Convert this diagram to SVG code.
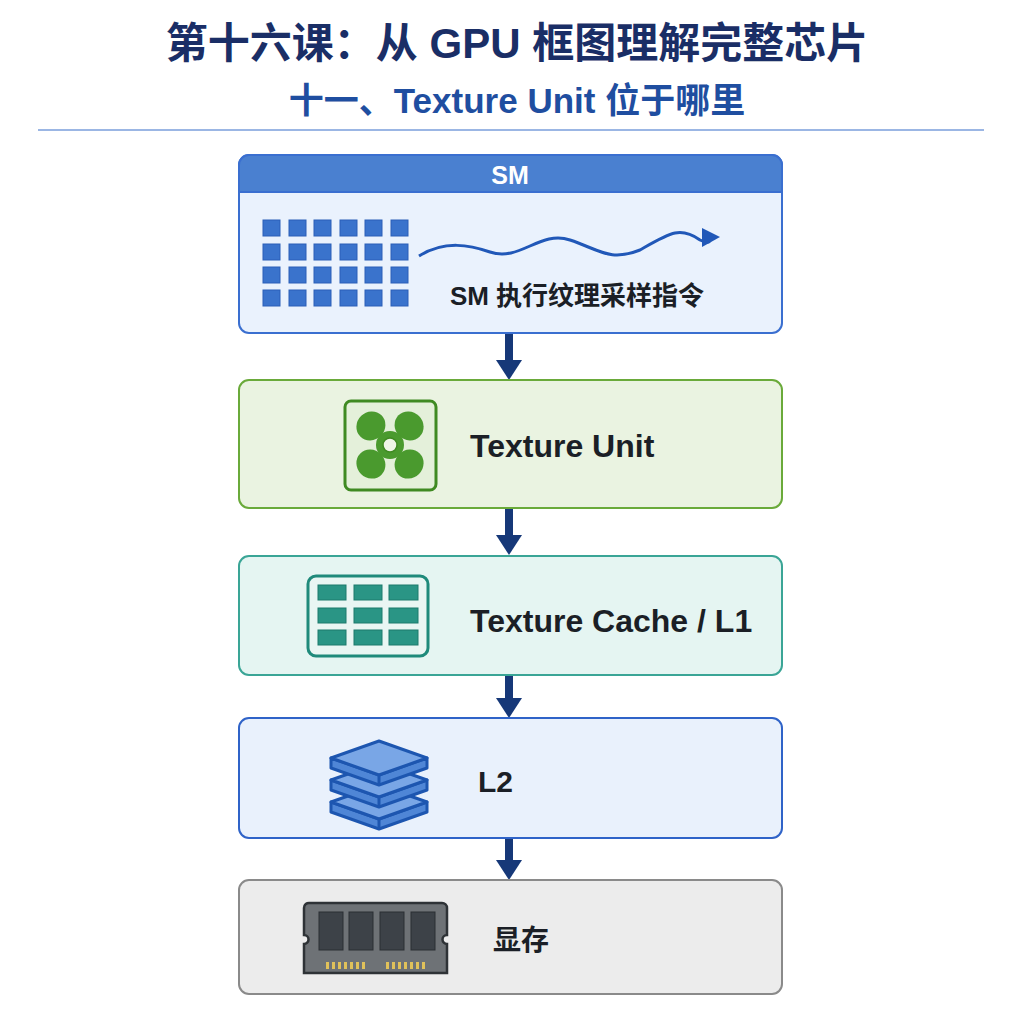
<svg xmlns="http://www.w3.org/2000/svg" width="1024" height="1024" viewBox="0 0 1024 1024">
<style>
.t{font-family:"Liberation Sans","Noto Sans CJK SC",sans-serif;font-weight:bold}
.lbl{font-family:"Liberation Sans","Noto Sans CJK SC",sans-serif;font-weight:bold;fill:#1b1f26}
.sq{fill:#3a73cc;stroke:#2a5fb8;stroke-width:1}
.ar{stroke:#163878;stroke-width:8;fill:none}
.cell{fill:#2a9585;stroke:#1d7a6d;stroke-width:1}
.side{fill:#4f86d6;stroke:#1d56b0;stroke-width:3;stroke-linejoin:round}
.top{fill:#79a6e6;stroke:#1d56b0;stroke-width:3;stroke-linejoin:round}
.chip{fill:#3d4248;stroke:#2a2e33;stroke-width:1}
.pin{fill:#e0c15a}
.petal{fill:#4a9a2e}
</style>
<rect width="1024" height="1024" fill="#ffffff"/>
<text class="t" x="517" y="58" text-anchor="middle" font-size="42" fill="#1a2e66">第十六课：从 GPU 框图理解完整芯片</text>
<text class="t" x="517" y="113" text-anchor="middle" font-size="35" fill="#1f4ea0">十一、Texture Unit 位于哪里</text>
<line x1="38" y1="130" x2="984" y2="130" stroke="#7a9edb" stroke-width="1.5"/>

<g id="connectors">
<line class="ar" x1="509" y1="334" x2="509" y2="362"/><path d="M496 360 L522 360 L509 380 z" fill="#163878"/>
<line class="ar" x1="509" y1="509" x2="509" y2="537"/><path d="M496 535 L522 535 L509 555 z" fill="#163878"/>
<line class="ar" x1="509" y1="676" x2="509" y2="700"/><path d="M496 698 L522 698 L509 718 z" fill="#163878"/>
<line class="ar" x1="509" y1="839" x2="509" y2="862"/><path d="M496 860 L522 860 L509 880 z" fill="#163878"/>
</g>

<g id="sm">
<rect x="239" y="155" width="543" height="178" rx="10" fill="#eaf2fd" stroke="#3a6fd0" stroke-width="2"/>
<path d="M249 155 H772 A10 10 0 0 1 782 165 V192 H239 V165 A10 10 0 0 1 249 155 z" fill="#4a80d0" stroke="#3a6fd0" stroke-width="2"/>
<text class="t" x="510" y="184" text-anchor="middle" font-size="25" fill="#ffffff">SM</text>
<g>
<rect class="sq" x="263" y="220" width="17" height="16"/><rect class="sq" x="289" y="220" width="17" height="16"/><rect class="sq" x="314" y="220" width="17" height="16"/><rect class="sq" x="340" y="220" width="17" height="16"/><rect class="sq" x="365" y="220" width="17" height="16"/><rect class="sq" x="391" y="220" width="17" height="16"/>
<rect class="sq" x="263" y="244" width="17" height="16"/><rect class="sq" x="289" y="244" width="17" height="16"/><rect class="sq" x="314" y="244" width="17" height="16"/><rect class="sq" x="340" y="244" width="17" height="16"/><rect class="sq" x="365" y="244" width="17" height="16"/><rect class="sq" x="391" y="244" width="17" height="16"/>
<rect class="sq" x="263" y="267" width="17" height="16"/><rect class="sq" x="289" y="267" width="17" height="16"/><rect class="sq" x="314" y="267" width="17" height="16"/><rect class="sq" x="340" y="267" width="17" height="16"/><rect class="sq" x="365" y="267" width="17" height="16"/><rect class="sq" x="391" y="267" width="17" height="16"/>
<rect class="sq" x="263" y="290" width="17" height="16"/><rect class="sq" x="289" y="290" width="17" height="16"/><rect class="sq" x="314" y="290" width="17" height="16"/><rect class="sq" x="340" y="290" width="17" height="16"/><rect class="sq" x="365" y="290" width="17" height="16"/><rect class="sq" x="391" y="290" width="17" height="16"/>
</g>
<path d="M419 256 C445 240 470 245 490 252 C520 262 540 230 570 240 C600 250 610 262 640 250 C670 233 680 226 700 240 C712 246 712 238 706 237" fill="none" stroke="#2158b8" stroke-width="3"/>
<path d="M702 228 L720 237 L702 247 z" fill="#2158b8"/>
<text class="lbl" x="577" y="305" text-anchor="middle" font-size="26">SM 执行纹理采样指令</text>
</g>

<g id="texture-unit">
<rect x="239" y="380" width="543" height="128" rx="10" fill="#eaf3e1" stroke="#6aaa3a" stroke-width="2"/>
<rect x="345" y="401" width="91" height="89" rx="6" fill="#e4f0da" stroke="#3f8a22" stroke-width="3"/>
<g transform="translate(390 445)">
<ellipse class="petal" cx="0" cy="-27" rx="15" ry="14" transform="rotate(-45)"/>
<ellipse class="petal" cx="0" cy="-27" rx="15" ry="14" transform="rotate(45)"/>
<ellipse class="petal" cx="0" cy="-27" rx="15" ry="14" transform="rotate(135)"/>
<ellipse class="petal" cx="0" cy="-27" rx="15" ry="14" transform="rotate(225)"/>
<circle r="14" class="petal"/>
<circle r="7" fill="#eef5e6" stroke="#3f8a22" stroke-width="1.5"/>
</g>
<text class="lbl" x="470" y="457" font-size="32">Texture Unit</text>
</g>

<g id="texture-cache">
<rect x="239" y="556" width="543" height="119" rx="10" fill="#e5f5f2" stroke="#3aa596" stroke-width="2"/>
<rect x="308" y="576" width="120" height="80" rx="8" fill="#e9f6f3" stroke="#1f8a7b" stroke-width="3"/>
<rect class="cell" x="318" y="585" width="28" height="15"/><rect class="cell" x="354" y="585" width="28" height="15"/><rect class="cell" x="389" y="585" width="29" height="15"/>
<rect class="cell" x="318" y="608" width="28" height="15"/><rect class="cell" x="354" y="608" width="28" height="15"/><rect class="cell" x="389" y="608" width="29" height="15"/>
<rect class="cell" x="318" y="630" width="28" height="15"/><rect class="cell" x="354" y="630" width="28" height="15"/><rect class="cell" x="389" y="630" width="29" height="15"/>
<text class="lbl" x="470" y="632" font-size="32">Texture Cache / L1</text>
</g>

<g id="l2">
<rect x="239" y="718" width="543" height="120" rx="10" fill="#e9f1fc" stroke="#2f63c8" stroke-width="2"/>
<g>
<path class="side" d="M331 802 L379 819 L427 802 L427 812 L379 829 L331 812 z"/><path class="top" d="M331 802 L379 785 L427 802 L379 819 z"/>
<path class="side" d="M331 780 L379 797 L427 780 L427 790 L379 807 L331 790 z"/><path class="top" d="M331 780 L379 763 L427 780 L379 797 z"/>
<path class="side" d="M331 758 L379 775 L427 758 L427 768 L379 785 L331 768 z"/><path class="top" d="M331 758 L379 741 L427 758 L379 775 z"/>
<path d="M379 775 V785 M379 797 V807 M379 819 V829" stroke="#1d56b0" stroke-width="3"/>
</g>
<text class="lbl" x="478" y="792" font-size="30">L2</text>
</g>

<g id="vram">
<rect x="239" y="880" width="543" height="114" rx="10" fill="#ececec" stroke="#8a8a8a" stroke-width="2"/>
<path d="M310 903 H442 A5 5 0 0 1 447 908 V935 A4 4 0 0 0 447 944 V973 H304 V944 A4 4 0 0 0 304 935 V908 A5 5 0 0 1 310 903 z" fill="#6e7276" stroke="#2e3236" stroke-width="2.5"/>
<rect class="chip" x="319" y="912" width="24" height="38"/><rect class="chip" x="349" y="912" width="24" height="38"/><rect class="chip" x="380" y="912" width="24" height="38"/><rect class="chip" x="411" y="912" width="24" height="38"/>
<g class="pin">
<rect x="326" y="962" width="3" height="7"/><rect x="332" y="962" width="3" height="7"/><rect x="338" y="962" width="3" height="7"/><rect x="344" y="962" width="3" height="7"/><rect x="350" y="962" width="3" height="7"/><rect x="356" y="962" width="3" height="7"/><rect x="362" y="962" width="3" height="7"/>
<rect x="386" y="962" width="3" height="7"/><rect x="392" y="962" width="3" height="7"/><rect x="398" y="962" width="3" height="7"/><rect x="404" y="962" width="3" height="7"/><rect x="410" y="962" width="3" height="7"/><rect x="416" y="962" width="3" height="7"/><rect x="422" y="962" width="3" height="7"/>
</g>
<text class="lbl" x="493" y="950" font-size="28">显存</text>
</g>
</svg>
